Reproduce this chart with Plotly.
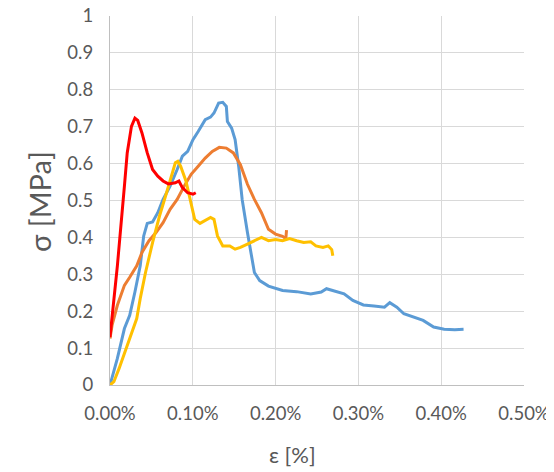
import plotly.graph_objects as go

# strain [%] and stress [MPa] for each specimen
blue_x = [0, 0.0089, 0.0174, 0.0238, 0.0301, 0.0365, 0.0407, 0.045, 0.0514, 0.0577, 0.0641, 0.0726,
          0.0811, 0.0874, 0.0938, 0.1002, 0.1065, 0.115, 0.1214, 0.1256, 0.1312, 0.1362, 0.1405, 0.1418,
          0.1469, 0.1511, 0.1554, 0.1596, 0.166, 0.1702, 0.1744, 0.1808, 0.1914, 0.2084, 0.2254, 0.2424,
          0.2551, 0.2615, 0.2721, 0.2827, 0.2933, 0.306, 0.3188, 0.3315, 0.3379, 0.3464, 0.3549, 0.3654,
          0.3782, 0.3909, 0.4036, 0.4164, 0.427]
blue_y = [0, 0.072, 0.153, 0.189, 0.252, 0.323, 0.404, 0.438, 0.442, 0.467, 0.503, 0.539,
          0.584, 0.620, 0.633, 0.665, 0.687, 0.719, 0.726, 0.737, 0.764, 0.766, 0.755, 0.714,
          0.696, 0.665, 0.593, 0.503, 0.413, 0.359, 0.305, 0.283, 0.268, 0.256, 0.253, 0.247,
          0.252, 0.261, 0.253, 0.247, 0.229, 0.217, 0.214, 0.211, 0.223, 0.211, 0.193, 0.184,
          0.175, 0.157, 0.151, 0.150, 0.151]

orange_x = [0, 0.0025, 0.0089, 0.0174, 0.0238, 0.0323, 0.0386, 0.0471, 0.0556, 0.0641, 0.0726, 0.0811,
            0.0896, 0.098, 0.1065, 0.115, 0.1235, 0.132, 0.1405, 0.149, 0.1575, 0.166, 0.1744, 0.1829,
            0.1914, 0.1999, 0.2084, 0.2115, 0.2125, 0.2132]
orange_y = [0.126, 0.162, 0.216, 0.270, 0.292, 0.323, 0.359, 0.391, 0.413, 0.440, 0.476, 0.503,
            0.539, 0.571, 0.593, 0.615, 0.633, 0.644, 0.642, 0.629, 0.597, 0.544, 0.503, 0.467,
            0.422, 0.409, 0.403, 0.398, 0.400, 0.420]

yellow_x = [0, 0.0047, 0.011, 0.0195, 0.028, 0.0323, 0.0365, 0.0429, 0.0514, 0.0598, 0.0683, 0.0747,
            0.0789, 0.0819, 0.0853, 0.0917, 0.098, 0.1023, 0.1087, 0.115, 0.1214, 0.1256, 0.1298,
            0.1362, 0.1447, 0.1511, 0.1575, 0.166, 0.1744, 0.1829, 0.1914, 0.1999, 0.2084, 0.2169,
            0.2254, 0.2339, 0.2424, 0.2487, 0.2572, 0.2636, 0.2678, 0.2691]
yellow_y = [0, 0.009, 0.045, 0.099, 0.157, 0.180, 0.234, 0.305, 0.386, 0.458, 0.521, 0.566,
            0.602, 0.606, 0.593, 0.553, 0.494, 0.449, 0.438, 0.445, 0.454, 0.449, 0.404,
            0.377, 0.377, 0.368, 0.373, 0.382, 0.391, 0.400, 0.391, 0.394, 0.391, 0.397,
            0.391, 0.386, 0.388, 0.377, 0.373, 0.377, 0.367, 0.350]

red_x = [0, 0.0089, 0.0174, 0.0208, 0.0259, 0.0301, 0.0335, 0.0386, 0.045, 0.0514, 0.0577, 0.0641,
         0.0705, 0.0789, 0.0832, 0.0874, 0.0938, 0.1002, 0.1036]
red_y = [0.13, 0.323, 0.539, 0.629, 0.701, 0.723, 0.717, 0.683, 0.629, 0.584, 0.566, 0.553,
         0.545, 0.548, 0.553, 0.535, 0.521, 0.517, 0.521]

x_ticks = [0, 0.1, 0.2, 0.3, 0.4, 0.5]
x_tick_labels = ["0.00%", "0.10%", "0.20%", "0.30%", "0.40%", "0.50%"]
y_ticks = [0, 0.1, 0.2, 0.3, 0.4, 0.5, 0.6, 0.7, 0.8, 0.9, 1]
y_tick_labels = ["0", "0.1", "0.2", "0.3", "0.4", "0.5", "0.6", "0.7", "0.8", "0.9", "1"]

series = [
    (blue_x, blue_y, "#5B9BD5"),
    (orange_x, orange_y, "#ED7D31"),
    (yellow_x, yellow_y, "#FFC000"),
    (red_x, red_y, "#FF0000"),
]

fig = go.Figure()
for xs, ys, col in series:
    fig.add_trace(go.Scatter(x=xs, y=ys, mode="lines",
                             line=dict(color=col, width=3), showlegend=False))

FONT = "Lato, Open Sans, sans-serif"
OFF = 8  # default page body margin
W, H = 554 - OFF, 472 - OFF
L, R, T, B = 110 - OFF, 30, 16 - OFF, 87
fig.update_layout(
    width=W, height=H,
    margin=dict(l=L, r=R, t=T, b=B, autoexpand=False),
    paper_bgcolor="white", plot_bgcolor="white",
    font=dict(family=FONT, color="#595959"),
    showlegend=False,
)
fig.update_xaxes(
    range=[0, 0.5], tickvals=x_ticks, ticktext=x_tick_labels, automargin=False,
    ticklabeloverflow="allow",
    showgrid=True, gridcolor="#D9D9D9", gridwidth=1.3,
    showline=True, linecolor="#BFBFBF", linewidth=1.3, zeroline=False,
    ticks="", ticklabelstandoff=12, tickfont=dict(size=18.5, color="#595959"),
)
fig.update_yaxes(
    range=[0, 1], tickvals=y_ticks, ticktext=y_tick_labels, automargin=False,
    ticklabeloverflow="allow",
    showgrid=True, gridcolor="#D9D9D9", gridwidth=1.3,
    showline=True, linecolor="#BFBFBF", linewidth=1.3, zeroline=False,
    ticks="", ticklabelstandoff=12, tickfont=dict(size=18.5, color="#595959"),
)
pw, ph = W - L - R, H - T - B
fig.add_annotation(text="ε [%]", xref="paper", yref="paper",
                   x=(292 - OFF - L) / pw, y=(H - B - (454 - OFF)) / ph,
                   showarrow=False, font=dict(size=22, color="#595959", family=FONT),
                   xanchor="center", yanchor="middle")
fig.add_annotation(text="σ [MPa]", xref="paper", yref="paper",
                   x=(39 - OFF - L) / pw, y=(H - B - (202 - OFF)) / ph,
                   textangle=-90, showarrow=False,
                   font=dict(size=29, color="#595959", family=FONT),
                   xanchor="center", yanchor="middle")

fig.write_html("out.html")
